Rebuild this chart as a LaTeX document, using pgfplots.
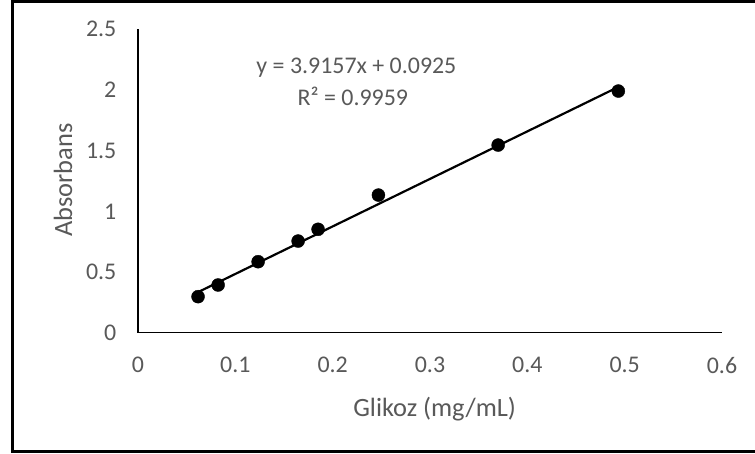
\documentclass[border=0pt]{standalone}
\usepackage{fontspec}
\setmainfont{Carlito}
\usepackage{pgfplots}
\pgfplotsset{compat=1.18}
\definecolor{txtgray}{HTML}{595959}
\newcommand{\tickfont}{\fontsize{24}{29}\selectfont}
\newcommand{\labelfont}{\fontsize{26.5}{32}\selectfont}
\begin{document}
\begin{tikzpicture}[x=1bp,y=1bp]
\useasboundingbox (0,0) rectangle (755,454);
\fill[white] (0,0) rectangle (755,454);
% chart frame (right side cut off in the reference)
\draw[line width=2.6bp,black] (770,452.6) -- (12.3,452.6) -- (12.3,2.4) -- (770,2.4);
\begin{axis}[
  at={(138bp,121.3bp)}, anchor=south west,
  scale only axis, width=584bp, height=303.4bp,
  xmin=0, xmax=0.6, ymin=0, ymax=2.5,
  xtick={0,0.1,0.2,0.3,0.4,0.5,0.6},
  ytick={0,0.5,1,1.5,2,2.5},
  axis lines=left,
  axis line style={-, draw=black, line width=1.3bp},
  major tick length=0pt,
  /pgf/number format/assume math mode=true,
  xticklabel style={font=\tickfont, text=txtgray, anchor=north, inner sep=0pt, yshift=-24bp},
  yticklabel style={font=\tickfont, text=txtgray, anchor=east, inner sep=0pt, xshift=-21.5bp},
  xlabel={Glikoz (mg/mL)},
  ylabel={Absorbans},
  xlabel style={font=\labelfont, text=txtgray, at={(axis description cs:0.508,-0.275)}, anchor=base, inner sep=0pt},
  ylabel style={font=\labelfont, text=txtgray, at={(axis description cs:-0.113,0.503)}, anchor=base, inner sep=0pt},
  clip=false,
]
\addplot[only marks, mark=*, mark size=6.5bp, black] coordinates {
  (0.0617,0.297) (0.0823,0.393) (0.1234,0.585) (0.1645,0.755)
  (0.1850,0.852) (0.2470,1.134) (0.3700,1.546) (0.4935,1.991)
};
% linear trendline y = 3.9157x + 0.0925 over the data range
\addplot[black, line width=2.2bp] coordinates {(0.0617,0.3341) (0.4935,2.0249)};
\node[font=\tickfont, text=txtgray, anchor=base, inner sep=0pt] at (axis description cs:0.374,0.855) {y = 3.9157x + 0.0925};
\node[font=\tickfont, text=txtgray, anchor=base, inner sep=0pt] at (axis description cs:0.368,0.750) {R² = 0.9959};
\end{axis}
\end{tikzpicture}
\end{document}
